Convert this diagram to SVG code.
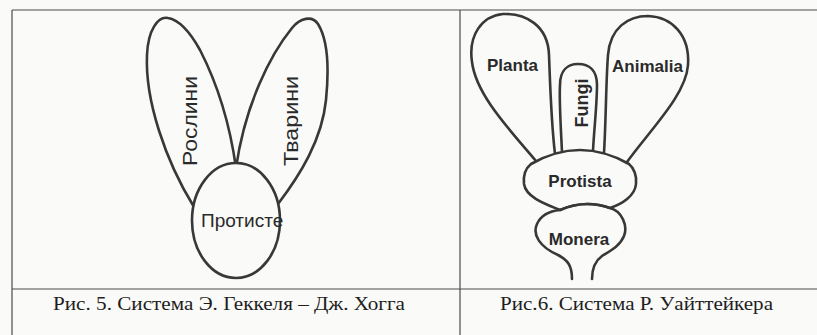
<svg xmlns="http://www.w3.org/2000/svg" width="817" height="335" viewBox="0 0 817 335">
<style>
.bg{fill:#fafaf8}
.frame{stroke:#4a4a4a;stroke-width:1.2;fill:none}
.shape{stroke:#383838;stroke-width:2.6;fill:none;stroke-linecap:round;stroke-linejoin:round}
.filled{fill:#fafaf8}
.lbl{font-family:"Liberation Sans",Arial,sans-serif;fill:#2a2a2a}
.lblb{font-family:"Liberation Sans",Arial,sans-serif;fill:#2a2a2a;font-weight:bold}
.cap{font-family:"Liberation Serif","Times New Roman",serif;font-size:19px;fill:#1e1e1e}
</style>
<rect class="bg" x="0" y="0" width="817" height="335"/>
<g id="frame">
<line class="frame" x1="12" y1="10" x2="817" y2="10"/>
<line class="frame" x1="12" y1="10" x2="12" y2="335"/>
<line class="frame" x1="460" y1="10" x2="460" y2="335"/>
<line class="frame" x1="12" y1="289" x2="817" y2="289"/>
</g>
<g id="connectors"></g>
<!-- Left panel: Haeckel - Hogg -->
<g id="roslyny">
<path class="shape" d="M194,207 C165,160 145,100 147,55 C148,30 158,16 168,18 C180,20 190,32 200,50 C218,85 230,125 236,168"/>
<text class="lbl" font-size="21" text-anchor="middle" textLength="90" lengthAdjust="spacingAndGlyphs" transform="translate(197,121) rotate(-90)">Рослини</text>
</g>
<g id="tvaryny">
<path class="shape" d="M278,204 C300,175 322,140 326,100 C329,70 328,40 318,24 C312,15 300,18 292,28 C270,55 245,105 236,168"/>
<text class="lbl" font-size="21" text-anchor="middle" textLength="90" lengthAdjust="spacingAndGlyphs" transform="translate(298,121) rotate(-90)">Тварини</text>
</g>
<g id="protyste">
<ellipse class="shape filled" cx="236" cy="220.5" rx="44" ry="57.5"/>
<text class="lbl" font-size="19" x="201" y="227">Протисте</text>
</g>
<g id="caption5">
<text class="cap" x="53" y="310" textLength="352" lengthAdjust="spacingAndGlyphs">Рис. 5. Система Э. Геккеля – Дж. Хогга</text>
</g>
<!-- Right panel: Whittaker -->
<g id="planta">
<path class="shape" d="M555,154 C551,120 550,80 549,55 C548,25 525,13 503,14 C482,16 468,35 472,62 C476,95 510,130 536,161"/>
<text class="lblb" font-size="17" x="487" y="71">Planta</text>
</g>
<g id="fungi">
<path class="shape" d="M562,152 C561,130 559,100 560,85 C560,70 568,64 578,64 C589,64 597,70 597,85 C597,105 594,130 593,151"/>
<text class="lblb" font-size="18" text-anchor="middle" transform="translate(588,103) rotate(-90)">Fungi</text>
</g>
<g id="animalia">
<path class="shape" d="M604,153 C606,120 606,80 608,55 C610,28 628,16 648,16 C672,17 690,35 688,65 C686,95 650,130 627,162"/>
<text class="lblb" font-size="17" x="612" y="72">Animalia</text>
</g>
<g id="protista">
<path class="shape filled" d="M560,210 C548,205 526,198 524,184 C523,174 526,168 531,164 Q580,136 629,164 C634,168 637,176 636,184 C635,196 622,204 610,208 Q585,199 560,210 Z"/>
<text class="lblb" font-size="17" text-anchor="middle" x="580" y="187">Protista</text>
</g>
<g id="monera">
<path class="shape" d="M572,279 C572,266 568,260 558,255 C540,247 532,235 537,224 C541,215 550,211 560,210 Q585,199 610,208 C622,211 628,226 624,236 C620,246 610,251 602,256 C595,261 592,268 592,279"/>
<text class="lblb" font-size="17" text-anchor="middle" x="579" y="245">Monera</text>
</g>
<g id="caption6">
<text class="cap" x="500" y="310" textLength="273" lengthAdjust="spacingAndGlyphs">Рис.6. Система Р. Уайттейкера</text>
</g>
</svg>
